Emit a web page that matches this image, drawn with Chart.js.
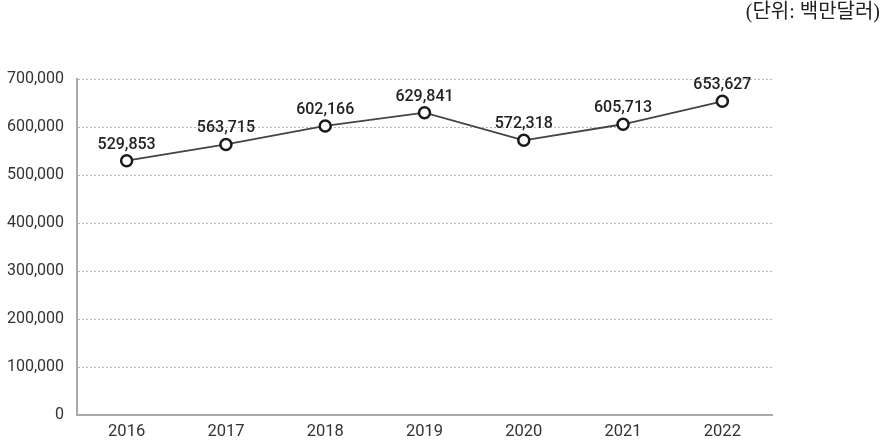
<!DOCTYPE html>
<html><head><meta charset="utf-8">
<script src="https://cdn.jsdelivr.net/npm/chart.js@4/dist/chart.umd.min.js"></script>
<style>html,body{margin:0;padding:0;background:#fff}#wrap{width:883px;height:448px;position:relative}</style>
</head><body><div id="wrap"><canvas id="c" width="883" height="448"></canvas></div>
<script>
const categories = ['2016','2017','2018','2019','2020','2021','2022'];
const values = [529853, 563715, 602166, 629841, 572318, 605713, 653627];
const unitLabel = '(단위: 백만달러)';
const yMin = 0, yMax = 700000, yStep = 100000;

const labelPlugin = {
  id: 'labels',
  afterDatasetsDraw(chart) {
    const ctx = chart.ctx;
    const meta = chart.getDatasetMeta(0);
    ctx.save();
    ctx.font = '500 16px Roboto, "Noto Sans", sans-serif';
    ctx.fillStyle = '#222';
    ctx.textAlign = 'center';
    ctx.textBaseline = 'alphabetic';
    meta.data.forEach((pt, i) => {
      ctx.fillText(values[i].toLocaleString('en-US'), pt.x, pt.y - 12);
    });
    ctx.font = '20px "Liberation Serif", "Noto Sans CJK KR", serif';
    ctx.fillStyle = '#222';
    ctx.textAlign = 'right';
    ctx.textBaseline = 'middle';
    ctx.fillText(unitLabel, 880, 13);
    ctx.restore();
  }
};

new Chart(document.getElementById('c'), {
  type: 'line',
  data: {
    labels: categories,
    datasets: [{
      data: values,
      borderColor: '#444',
      borderWidth: 1.8,
      pointRadius: 5.5,
      pointBorderWidth: 2.5,
      pointBorderColor: '#1a1a1a',
      pointBackgroundColor: '#fff',
      tension: 0
    }]
  },
  options: {
    responsive: false,
    animation: false,
    layout: { padding: { left: 0, right: 111, top: 79, bottom: 0 } },
    plugins: { legend: { display: false }, tooltip: { enabled: false }, title: { display: false } },
    scales: {
      x: {
        type: 'category',
        offset: true,
        grid: { display: false, drawTicks: false },
        border: { display: true, color: '#aaa', width: 2 },
        ticks: { color: '#333', font: { size: 16.5, family: 'Roboto, "Noto Sans", sans-serif' }, padding: 7 },
        afterFit(s) { s.height = 33; }
      },
      y: {
        min: yMin, max: yMax,
        ticks: { stepSize: yStep, color: '#333', font: { size: 16, family: 'Roboto, "Noto Sans", sans-serif' }, padding: 13,
          callback: v => v.toLocaleString('en-US') },
        grid: { color: '#b5b5b5', lineWidth: 1, drawTicks: false },
        border: { display: true, color: '#aaa', width: 2, dash: [2, 2] },
        afterFit(s) { s.width = 77; }
      }
    }
  },
  plugins: [labelPlugin]
});
</script></body></html>
